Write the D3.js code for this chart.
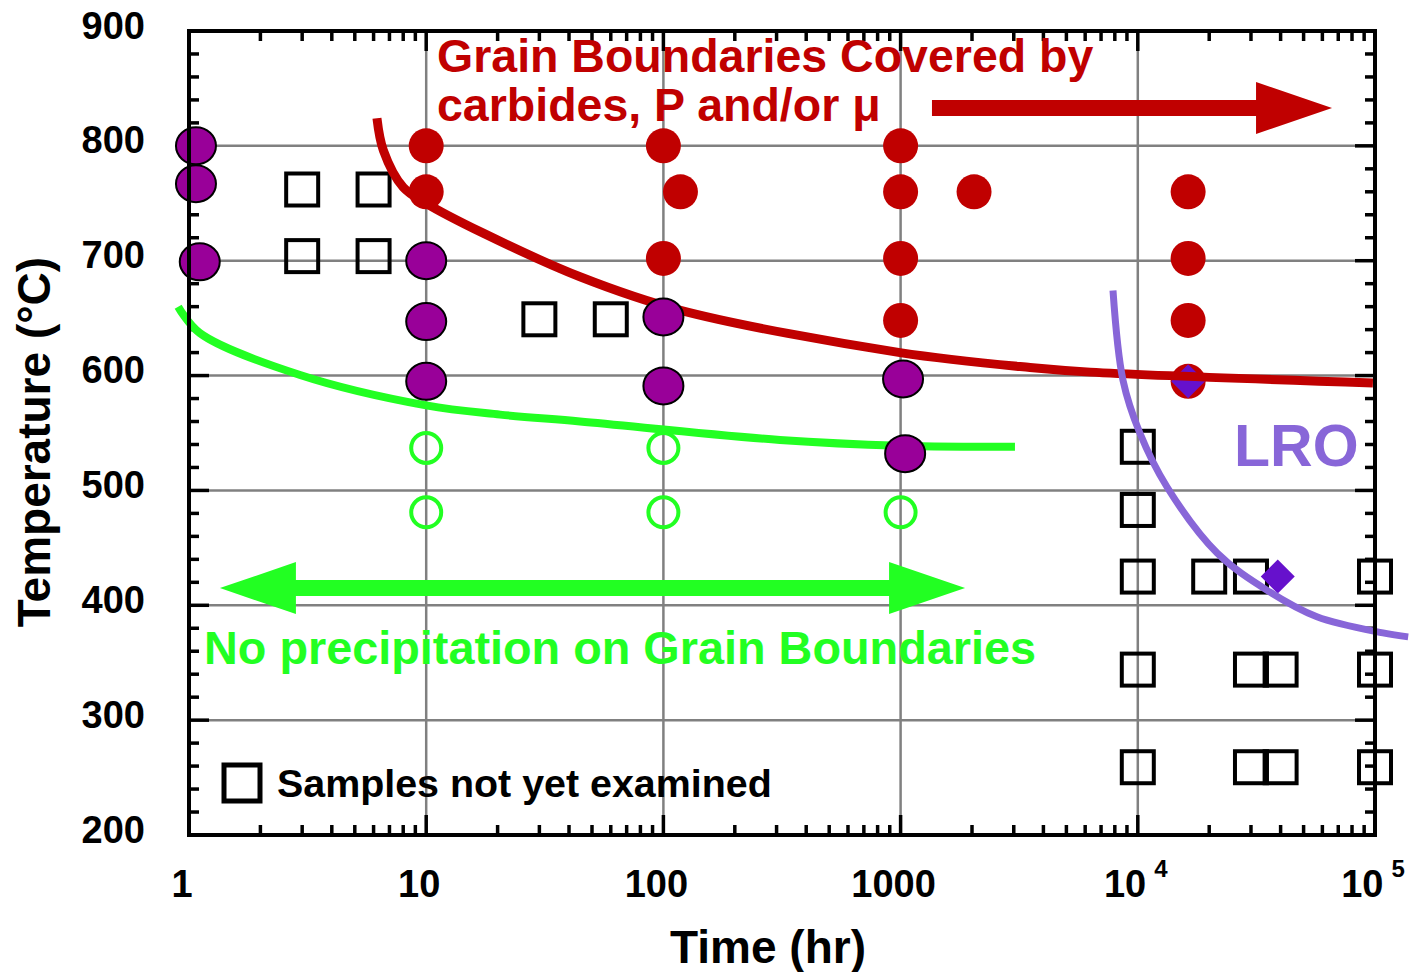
<!DOCTYPE html>
<html lang="en">
<head>
<meta charset="UTF-8" />
<title>Grain boundary precipitation map</title>
<style>
  body { margin: 0; background: #fff; }
  svg { display: block; font-family: "Liberation Sans", Arial, sans-serif; font-weight: bold; }
</style>
</head>
<body>
<svg id="chart" width="1410" height="972"></svg>
<script src="https://d3js.org/d3.v7.min.js"></script>
<script>
// every point is [time (hr), temperature (°C)]
const purpleCircles = [[1.07, 800], [1.07, 767], [1.11, 699], [10, 700], [10, 647], [10, 595],
  [100, 651], [100, 591], [1024, 597], [1045, 532]];
const redCircles = [[10, 800], [10, 760], [100, 800], [118, 760], [100, 702], [1000, 800], [1000, 760],
  [2040, 760], [1000, 702], [1000, 648], [16300, 760], [16300, 702], [16300, 648], [16300, 595]];
const greenOpen = [[10, 537], [10, 481], [100, 537], [100, 481], [1000, 481]];
const squares = [[3, 762], [6, 762], [3, 704], [6, 704], [30, 649], [60, 649],
  [10000, 538], [10000, 483], [10000, 425], [20000, 425], [30000, 425], [100000, 425],
  [10000, 344], [30000, 344], [40000, 344], [100000, 344],
  [10000, 259], [30000, 259], [40000, 259], [100000, 259]];
const diamonds = [[16300, 595], [38900, 425]];

const redCurve = [[6.2, 824], [6.6, 796], [8.0, 764], [10, 750], [17.4, 724], [44.5, 686], [117, 657],
  [994, 620], [3514, 607], [6300, 603], [98000, 593.5]];
const greenCurve = [[0.9, 660], [1.11, 637], [2.94, 600.5], [10, 574], [20.5, 566], [44.5, 560],
  [310, 544], [994, 539], [3035, 538]];
const lroCurve = [[7860, 674], [8660, 596], [10200, 550], [13280, 503], [21600, 445.5], [35100, 413],
  [56900, 390], [108000, 376], [138000, 372.5]];

const xTicks = [1, 10, 100, 1000, 10000, 100000];
const xTickLabels = ["1", "10", "100", "1000", "10", "10"];
const xTickSup = ["", "", "", "", "4", "5"];
const yTicks = [200, 300, 400, 500, 600, 700, 800, 900];

const redArrow = [[1356, 833], [65900, 833]];
const greenArrow = [[1.35, 415], [1870, 415]];

const mLeft = 189, mRight = 1375, mTop = 31, mBottom = 835;

const x = d3.scaleLog().domain([1, 100000]).range([mLeft, mRight]);
const y = d3.scaleLinear().domain([200, 900]).range([mBottom, mTop]);

const svg = d3.select("#chart");

const RED = "#c00000", GREEN = "#22ff22", PURPLE = "#990099", LRO = "#8866d8", DIAM = "#6611cc";

// grid
const grid = svg.append("g").attr("stroke", "#808080").attr("stroke-width", 2.5);
grid.selectAll("line.h").data(yTicks.slice(1, -1)).enter().append("line")
  .attr("x1", mLeft).attr("x2", mRight).attr("y1", d => y(d)).attr("y2", d => y(d));
grid.selectAll("line.v").data(xTicks.slice(1, -1)).enter().append("line")
  .attr("y1", mTop).attr("y2", mBottom).attr("x1", d => x(d)).attr("x2", d => x(d));

// ticks, inward on all four sides
const minorX = [];
for (let e = 0; e < 5; e++) for (let k = 2; k < 10; k++) minorX.push(k * Math.pow(10, e));
const minorY = d3.range(200, 901, 20).filter(d => d % 100 !== 0);
const ticks = svg.append("g").attr("stroke", "#000").attr("stroke-width", 3.5);
[mBottom, mTop].forEach(base => {
  const dir = base === mBottom ? -1 : 1;
  ticks.append("g").selectAll("line").data(minorX).enter().append("line")
    .attr("x1", d => x(d)).attr("x2", d => x(d)).attr("y1", base).attr("y2", base + dir * 10);
  ticks.append("g").selectAll("line").data(xTicks).enter().append("line")
    .attr("x1", d => x(d)).attr("x2", d => x(d)).attr("y1", base).attr("y2", base + dir * 20);
});
[mLeft, mRight].forEach(base => {
  const dir = base === mLeft ? 1 : -1;
  ticks.append("g").selectAll("line").data(minorY).enter().append("line")
    .attr("y1", d => y(d)).attr("y2", d => y(d)).attr("x1", base).attr("x2", base + dir * 10);
  ticks.append("g").selectAll("line").data(yTicks).enter().append("line")
    .attr("y1", d => y(d)).attr("y2", d => y(d)).attr("x1", base).attr("x2", base + dir * 20);
});

// marks drawn under the curves
svg.append("g").selectAll("circle").data(greenOpen).enter().append("circle")
  .attr("cx", d => x(d[0])).attr("cy", d => y(d[1])).attr("r", 15)
  .attr("fill", "none").attr("stroke", GREEN).attr("stroke-width", 4);

svg.append("g").selectAll("rect").data(squares).enter().append("rect")
  .attr("x", d => x(d[0]) - 16).attr("y", d => y(d[1]) - 16)
  .attr("width", 32).attr("height", 32)
  .attr("fill", "none").attr("stroke", "#000").attr("stroke-width", 4);

svg.append("g").selectAll("circle").data(redCircles).enter().append("circle")
  .attr("cx", d => x(d[0])).attr("cy", d => y(d[1])).attr("r", 17.5).attr("fill", RED);

svg.append("g").selectAll("path").data(diamonds).enter().append("path")
  .attr("d", d => {
    const cx = x(d[0]), cy = y(d[1]), s = 17;
    return `M${cx},${cy - s}L${cx + s},${cy}L${cx},${cy + s}L${cx - s},${cy}Z`;
  })
  .attr("fill", DIAM);

// curves
const line = d3.line().x(d => x(d[0])).y(d => y(d[1])).curve(d3.curveCatmullRom.alpha(0.5));
svg.append("path").datum(greenCurve).attr("d", line)
  .attr("fill", "none").attr("stroke", GREEN).attr("stroke-width", 8);
svg.append("path").datum(redCurve).attr("d", line)
  .attr("fill", "none").attr("stroke", RED).attr("stroke-width", 9);
svg.append("path").datum(lroCurve).attr("d", line)
  .attr("fill", "none").attr("stroke", LRO).attr("stroke-width", 7);

svg.append("g").selectAll("ellipse").data(purpleCircles).enter().append("ellipse")
  .attr("cx", d => x(d[0])).attr("cy", d => y(d[1])).attr("rx", 20).attr("ry", 18.5)
  .attr("fill", PURPLE).attr("stroke", "#000").attr("stroke-width", 2);

// arrows
function arrow(x0, x1, yy, color, twoHeads) {
  const t = 8, hw = 26, hl = 76;
  const p = [];
  if (twoHeads) {
    p.push([x0, yy], [x0 + hl, yy - hw], [x0 + hl, yy - t]);
  } else {
    p.push([x0, yy - t]);
  }
  p.push([x1 - hl, yy - t], [x1 - hl, yy - hw], [x1, yy], [x1 - hl, yy + hw], [x1 - hl, yy + t]);
  if (twoHeads) {
    p.push([x0 + hl, yy + t], [x0 + hl, yy + hw]);
  } else {
    p.push([x0, yy + t]);
  }
  svg.append("path").attr("d", "M" + p.join("L") + "Z").attr("fill", color);
}
arrow(x(redArrow[0][0]), x(redArrow[1][0]), y(redArrow[0][1]), RED, false);
arrow(x(greenArrow[0][0]), x(greenArrow[1][0]), y(greenArrow[0][1]), GREEN, true);

// frame
svg.append("rect").attr("x", mLeft).attr("y", mTop).attr("width", mRight - mLeft).attr("height", mBottom - mTop)
  .attr("fill", "none").attr("stroke", "#000").attr("stroke-width", 4);

// tick labels
svg.append("g").selectAll("text").data(yTicks).enter().append("text")
  .attr("x", 145).attr("y", d => y(d)).attr("dy", "0.2em")
  .attr("text-anchor", "end").attr("font-size", 38).text(d => d);

const xl = svg.append("g").selectAll("text").data(xTicks).enter().append("text")
  .attr("x", (d, i) => x(d) - (xTickSup[i] ? 2 : 7)).attr("y", 897)
  .attr("text-anchor", "middle").attr("font-size", 38);
xl.append("tspan").text((d, i) => xTickLabels[i]);
xl.append("tspan").attr("dx", 8).attr("dy", -20).attr("font-size", 24).text((d, i) => xTickSup[i]);

// axis titles
svg.append("text").attr("x", 768).attr("y", 963).attr("text-anchor", "middle")
  .attr("font-size", 46).text("Time (hr)");
svg.append("text").attr("transform", "translate(50,442) rotate(-90)").attr("text-anchor", "middle")
  .attr("font-size", 46).text("Temperature (°C)");

// annotations
svg.append("text").attr("x", 437).attr("y", 72).attr("font-size", 46.5).attr("fill", RED)
  .text("Grain Boundaries Covered by");
svg.append("text").attr("x", 437).attr("y", 121).attr("font-size", 46.5).attr("fill", RED)
  .text("carbides, P and/or μ");
svg.append("text").attr("x", 204).attr("y", 664).attr("font-size", 46.8).attr("fill", GREEN)
  .text("No precipitation on Grain Boundaries");
svg.append("text").attr("x", 1234).attr("y", 466).attr("font-size", 59).attr("fill", LRO)
  .text("LRO");

// legend
svg.append("rect").attr("x", 224).attr("y", 765).attr("width", 36).attr("height", 36)
  .attr("fill", "none").attr("stroke", "#000").attr("stroke-width", 5);
svg.append("text").attr("x", 277).attr("y", 797).attr("font-size", 39.4).text("Samples not yet examined");
</script>
</body>
</html>
